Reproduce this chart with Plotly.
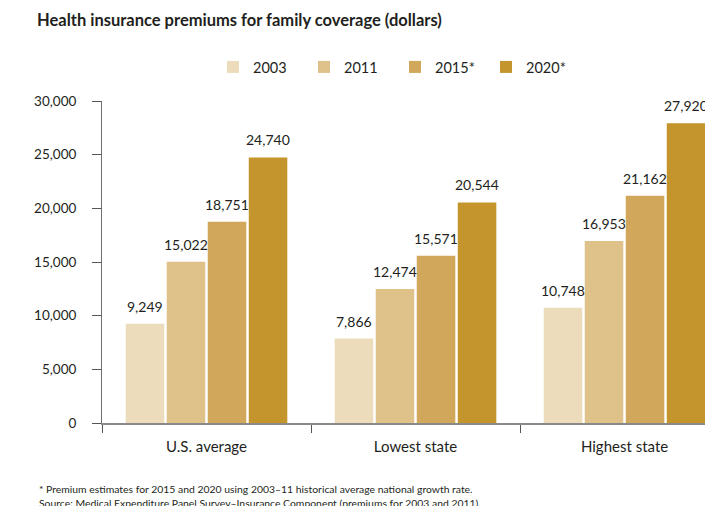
import plotly.graph_objects as go

# Premium data (dollars)
groups = ["U.S. average", "Lowest state", "Highest state"]
years = ["2003", "2011", "2015*", "2020*"]
prem_2003 = [9249, 7866, 10748]
prem_2011 = [15022, 12474, 16953]
prem_2015 = [18751, 15571, 21162]
prem_2020 = [24740, 20544, 27920]
bar_colors = ["#ECDCBC", "#DFC18A", "#D1A85B", "#C4952D"]
y_ticks = [0, 5000, 10000, 15000, 20000, 25000, 30000]

FONT = "Lato"
TEXT = "#231F20"
BARGAP = 0.215
SLOT = (1 - BARGAP) / len(years)

series = [prem_2003, prem_2011, prem_2015, prem_2020]

fig = go.Figure()
for name, vals, col in zip(years, series, bar_colors):
    fig.add_trace(go.Bar(
        x=groups, y=vals, name=name,
        marker=dict(color=col, line=dict(width=0)),
        hovertemplate="%{x}<br>" + name + ": %{y:,}<extra></extra>",
    ))

# value labels above each bar, centred on the bar's slot within its group
for k, vals in enumerate(series):
    offset = (k - (len(years) - 1) / 2) * SLOT
    for i, v in enumerate(vals):
        fig.add_annotation(
            x=i + offset, y=v, xref="x", yref="y",
            text=f"{v:,}", showarrow=False,
            yanchor="bottom", yshift=7,
            font=dict(family=FONT, size=14, color=TEXT),
        )

fig.update_layout(
    width=705, height=506,
    margin=dict(l=102, r=0, t=101, b=83, autoexpand=False),
    paper_bgcolor="white", plot_bgcolor="white",
    barmode="group", bargap=BARGAP, bargroupgap=0.06,
    font=dict(family=FONT, color=TEXT),
    title=dict(
        text="<b>Health insurance premiums for family coverage (dollars)</b>",
        x=37 / 705, xanchor="left", xref="container",
        y=1 - 20 / 506, yanchor="middle", yref="container",
        font=dict(family=FONT, size=16.5, color=TEXT),
    ),
    legend=dict(
        orientation="h", x=(213 - 102) / 603, xanchor="left",
        y=(423 - 67) / 322, yanchor="middle",
        font=dict(family=FONT, size=14.5, color=TEXT),
        entrywidth=46, traceorder="normal",
    ),
    showlegend=True,
)

fig.update_xaxes(
    type="category", range=[-0.5, 2.385],
    showline=True, linecolor="#8A8A8A", linewidth=2,
    ticks="outside", tickson="boundaries", ticklen=8, tickcolor="#555555",
    tickfont=dict(family=FONT, size=15, color=TEXT),
    ticklabelstandoff=9, showgrid=False, zeroline=False,
)
fig.update_yaxes(
    range=[0, 30000], tickvals=y_ticks, tickformat=",",
    showline=True, linecolor="#6E6E6E", linewidth=1,
    ticks="outside", ticklen=9, tickcolor="#555555",
    tickfont=dict(family=FONT, size=13.5, color=TEXT),
    ticklabelstandoff=13, showgrid=False, zeroline=False,
)

notes = [
    "* Premium estimates for 2015 and 2020 using 2003\u201311 historical average national growth rate.",
    "Source: Medical Expenditure Panel Survey\u2013Insurance Component (premiums for 2003 and 2011).",
]
for line, py in zip(notes, [489, 503]):
    fig.add_annotation(
        text=line, xref="paper", yref="paper",
        x=(37 - 102) / 603, y=(423 - py) / 322,
        xanchor="left", yanchor="middle", showarrow=False,
        font=dict(family=FONT, size=10.4, color=TEXT),
    )

fig.write_html("out.html")
